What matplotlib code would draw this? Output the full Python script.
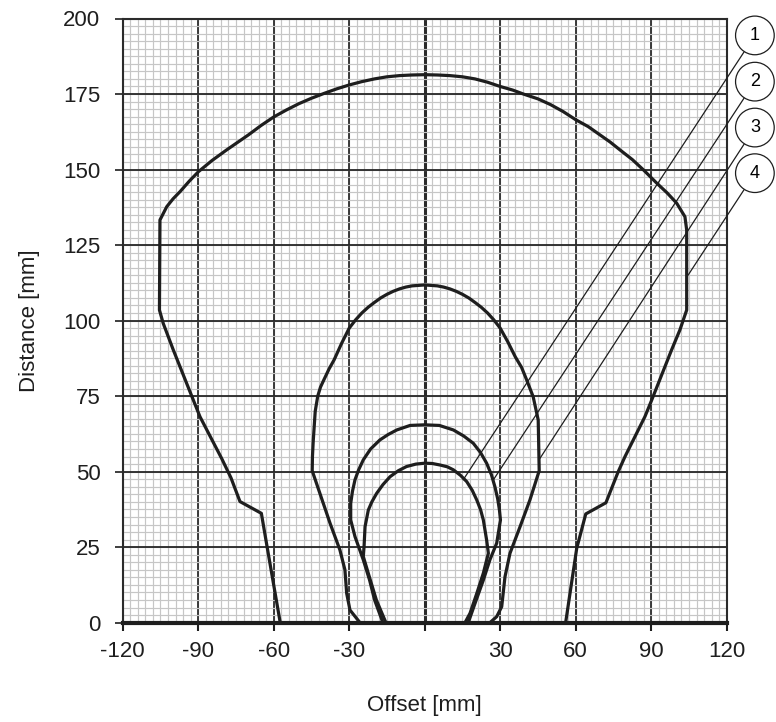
import numpy as np
import matplotlib
matplotlib.use("Agg")
import matplotlib.pyplot as plt

plt.rcParams['font.family'] = ['Liberation Sans', 'DejaVu Sans']
plt.rcParams['font.size'] = 16

# detection fields (offset mm, distance mm)
# curve 1: smallest field
c1_x = [-15.4, -19.2, -22.0, -24.4, -24.1, -23.7, -22.4, -21.0, -19.1, -16.6, -13.8, -10.5, -7.2,
        -3.5, 0.0, 3.0, 6.1, 9.0, 11.4, 14.2, 16.7, 18.9, 20.7, 22.2, 23.3, 24.6, 25.3,
        23.3, 20.7, 18.0, 16.0]
c1_y = [0.0, 7.5, 15.2, 21.9, 25.2, 31.8, 37.3, 40.0, 42.8, 45.7, 48.3, 50.3, 51.7,
        52.5, 52.8, 52.7, 52.2, 51.6, 50.6, 48.8, 46.7, 43.8, 40.6, 37.4, 34.0, 27.4, 23.0,
        16.4, 9.7, 3.1, 0.0]

# curve 2
c2_x = [-16.6, -19.9, -21.9, -24.4, -27.7, -29.4, -29.4, -28.7, -27.7, -26.3, -24.4, -21.5,
        -17.8, -14.5, -11.1, -5.8, 0.0, 5.8, 11.4, 15.5, 19.3, 22.2, 24.6, 26.5, 27.9, 29.0,
        29.7, 30.1, 28.6, 25.9, 23.3, 20.0, 17.3]
c2_y = [0.0, 7.5, 14.1, 20.8, 28.5, 34.0, 39.5, 43.5, 47.3, 50.5, 53.9, 57.5,
        60.5, 62.3, 63.8, 65.3, 65.5, 65.3, 63.8, 61.8, 59.4, 56.3, 52.8, 49.0, 45.0, 41.0,
        37.3, 34.0, 26.3, 20.8, 14.1, 6.4, 0.0]

# curve 3
c3_x = [-25.7, -29.7, -31.0, -31.7, -33.7, -37.6, -44.7, -44.6, -44.3, -43.5, -42.5, -41.4,
        -40.0, -38.0, -36.0, -33.0, -30.0, -27.5, -25.0, -22.5, -20.0, -17.5, -15.0, -12.5,
        -10.0, -7.5, -5.0, 0.0, 5.0, 7.5, 10.0, 12.5, 15.0, 17.5, 20.0, 22.5, 25.0, 27.5,
        30.0, 33.0, 36.0, 38.5, 40.5, 43.1, 45.1, 45.5, 41.8, 37.9, 33.9, 31.9, 30.6, 28.6, 25.9]
c3_y = [0.0, 4.2, 9.7, 17.5, 24.1, 32.9, 50.3, 55.0, 60.0, 70.0, 75.0, 78.0,
        80.5, 84.0, 87.0, 92.5, 97.5, 100.2, 102.5, 104.4, 106.0, 107.5, 108.7, 109.7,
        110.5, 111.1, 111.5, 111.8, 111.5, 111.1, 110.5, 109.7, 108.7, 107.5, 106.0, 104.4, 102.5, 100.2,
        97.5, 93.0, 88.0, 84.5, 80.4, 74.8, 67.1, 50.3, 40.6, 31.8, 23.0, 15.2, 5.3, 2.0, 0.0]

# curve 4: largest field
c4_x = [-57.4, -62.6, -64.9, -73.4, -77.0, -80.7, -89.3, -99.9, -103.9, -105.4, -105.2,
        -102.5, -100.0, -97.2, -93.5, -89.9, -84.5, -78.7, -70.0, -65.0, -60.0, -55.0, -50.0,
        -45.0, -40.0, -35.0, -30.0, -25.0, -20.0, -15.0, -10.0, -5.0, 0.0, 5.0, 10.0, 15.0,
        20.0, 25.0, 30.0, 35.0, 39.2, 45.0, 50.0, 55.0, 60.0, 65.0, 69.6, 73.7, 77.6, 82.5,
        86.9, 92.2, 96.3, 100.1, 103.4, 104.1, 104.1, 101.4, 98.1, 90.2, 87.5, 79.6, 76.9,
        72.0, 64.0, 60.4, 56.0]
c4_y = [0.0, 25.0, 36.2, 40.1, 48.0, 54.4, 68.2, 90.3, 99.1, 103.5, 133.3,
        137.7, 140.3, 142.7, 146.2, 149.3, 153.0, 156.5, 161.5, 164.6, 167.4, 169.7, 171.8,
        173.6, 175.2, 176.7, 178.0, 179.1, 180.0, 180.7, 181.1, 181.3, 181.4, 181.3, 181.1, 180.7,
        180.0, 178.9, 177.5, 176.3, 175.0, 173.4, 171.5, 169.2, 166.5, 164.2, 161.5, 159.1, 156.5, 153.3,
        149.9, 145.5, 142.3, 138.9, 134.4, 130.0, 103.5, 96.9, 90.3, 73.7, 68.2, 55.0, 50.0,
        39.7, 36.0, 24.6, 0.0]

curves_x = [c1_x, c2_x, c3_x, c4_x]
curves_y = [c1_y, c2_y, c3_y, c4_y]

# callouts: label, point on curve, circle position
callout_labels = ['1', '2', '3', '4']
callout_pts = [(15.3, 47.3), (27.3, 47.3), (45.8, 54.4), (104.7, 115.1)]
callout_circles = [(131.2, 194.4), (131.2, 179.1), (131.2, 163.9), (131.2, 148.8)]

xticks = [-120, -90, -60, -30, 0, 30, 60, 90, 120]
xticklabels = ['-120', '-90', '-60', '-30', '', '30', '60', '90', '120']
yticks = [0, 25, 50, 75, 100, 125, 150, 175, 200]


fig = plt.figure(figsize=(7.76, 7.22), dpi=100)
ax = fig.add_axes([122.7 / 776, (722 - 622.7) / 722, 604 / 776, 604.2 / 722])

# grid: vertical lines below, horizontal on top (gives the broken look)
for x in np.arange(-120, 121, 3):
    ax.axvline(x, color='#c6c6c6', lw=0.85, zorder=0.5)
for x in xticks[1:-1]:
    ax.axvline(x, color='#2b2b2b', lw=2.2 if x == 0 else 1.3, zorder=0.6)
for y in np.arange(0, 201, 2.5):
    ax.axhline(y, color='#c6c6c6', lw=0.85, zorder=0.7)
for y in yticks[1:-1]:
    ax.axhline(y, color='#262626', lw=1.3, zorder=0.8)

for cx, cy in zip(curves_x, curves_y):
    ax.plot(cx, cy, color='#1e1e1e', lw=2.3, solid_joinstyle='round', zorder=2)

for lab, pt, circ in zip(callout_labels, callout_pts, callout_circles):
    ax.annotate(lab, xy=pt, xytext=circ, xycoords='data', textcoords='data',
                ha='center', va='center', fontsize=13, annotation_clip=False,
                bbox=dict(boxstyle='circle,pad=0.6', fc='white', ec='#1e1e1e', lw=0.9),
                arrowprops=dict(arrowstyle='-', color='#1e1e1e', lw=0.9,
                                shrinkA=0, shrinkB=0))

ax.set_xlim(-120, 120)
ax.set_ylim(0, 200)
ax.set_xticks(xticks)
ax.set_xticklabels(xticklabels)
ax.set_yticks(yticks)

for side in ['left', 'top', 'right']:
    ax.spines[side].set_linewidth(1.5)
    ax.spines[side].set_color('#2b2b2b')
ax.spines['bottom'].set_linewidth(3.0)
ax.spines['bottom'].set_color('#1e1e1e')

ax.tick_params(axis='x', length=6, width=1.5, pad=7, colors='#1e1e1e')
ax.tick_params(axis='y', length=6, width=1.2, pad=10, colors='#1e1e1e')

ax.set_xlabel('Offset [mm]', va='center', color='#1e1e1e')
ax.xaxis.set_label_coords(0.5, (622.7 - 705) / 604)
ax.set_ylabel('Distance [mm]', va='center', color='#1e1e1e')
ax.yaxis.set_label_coords((30 - 122.7) / 604, 0.5)

fig.savefig('out.png', dpi=100)
